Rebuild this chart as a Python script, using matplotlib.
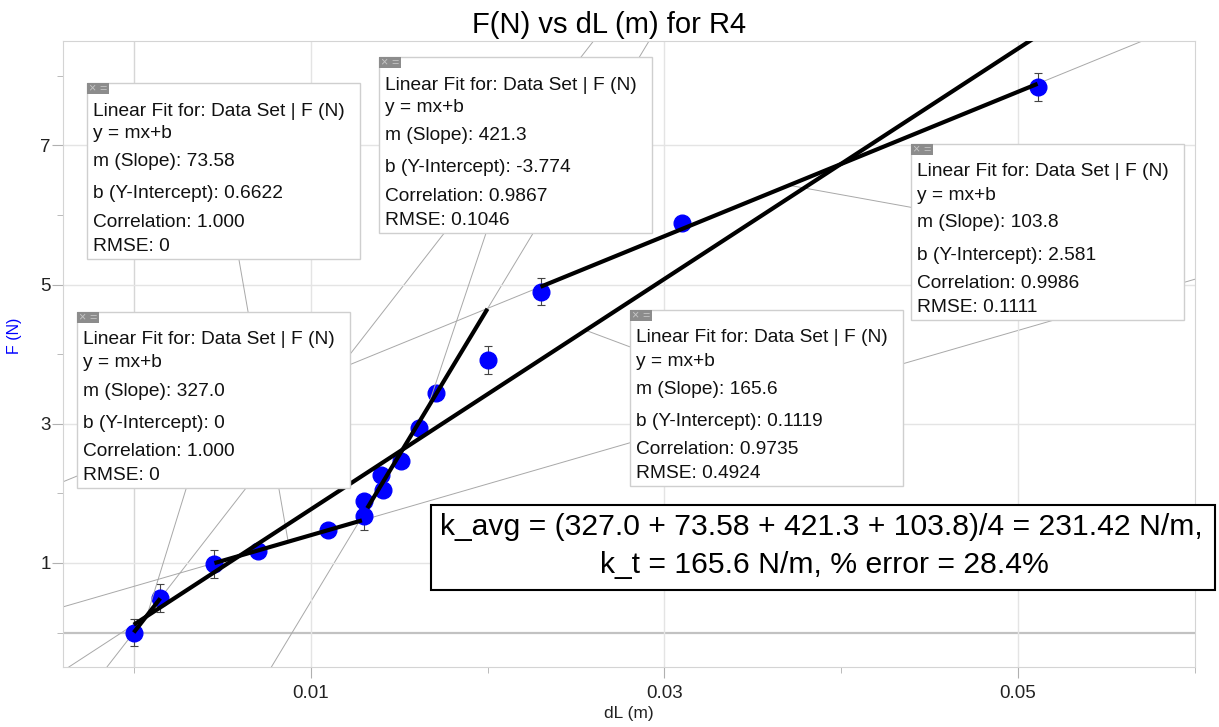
import numpy as np
import matplotlib.pyplot as plt
from matplotlib.patches import Rectangle

plt.rcParams['font.family'] = ['Liberation Sans', 'DejaVu Sans']

# data
dL = [0.0, 0.0015, 0.00456, 0.0070, 0.0110, 0.0130, 0.0130, 0.0140,
      0.0141, 0.0151, 0.0161, 0.0171, 0.0200, 0.0230, 0.0310, 0.0511]
F = [0.0, 0.49, 0.99, 1.165, 1.47, 1.885, 1.67, 2.27,
     2.05, 2.46, 2.94, 3.44, 3.92, 4.90, 5.89, 7.84]
F_err = [0.2, 0.2, 0.2, 0, 0, 0, 0.2, 0, 0, 0, 0, 0, 0.2, 0.2, 0, 0.2]

# linear fits: slope, intercept, fitted x range
fit_m = [327.0, 73.58, 421.3, 103.8, 165.6]
fit_b = [0.0, 0.6622, -3.774, 2.581, 0.1119]
fit_lo = [0.0, 0.00456, 0.0132, 0.0230, 0.0]
fit_hi = [0.0015, 0.0129, 0.0200, 0.0511, 0.0511]
fit_m_txt = ['327.0', '73.58', '421.3', '103.8', '165.6']
fit_b_txt = ['0', '0.6622', '-3.774', '2.581', '0.1119']
fit_corr = ['1.000', '1.000', '0.9867', '0.9986', '0.9735']
fit_rmse = ['0', '0', '0.1046', '0.1111', '0.4924']

# where each fit box sits (pixels, top-left)
box_pos = [(77, 312), (87, 83), (379, 57), (911, 144), (630, 310)]
box_w, box_h = 273, 176

summary = ("k_avg = (327.0 + 73.58 + 421.3 + 103.8)/4 = 231.42 N/m,\n"
           "k_t = 165.6 N/m, % error = 28.4%")

W, H = 1219, 727
fig = plt.figure(figsize=(W / 100, H / 100), dpi=100)
ax = fig.add_axes([63 / W, 1 - 667.3 / H, 1132 / W, 626.3 / H])
ax.set_xlim(-0.004, 0.06)
ax.set_ylim(-0.5, 8.5)

def fx(px):
    return px / W

def fy(py):
    return 1 - py / H

grey = '#a8a8a8'
xs = np.array(ax.get_xlim())

# fit lines extended over the whole graph (thin) and over the fit range (thick)
for m, b, lo, hi in zip(fit_m, fit_b, fit_lo, fit_hi):
    ax.plot(xs, m * xs + b, color=grey, lw=0.7, zorder=1.5)
    xr = np.array([lo, hi])
    ax.plot(xr, m * xr + b, color='black', lw=3, zorder=4, solid_capstyle='butt')

ax.errorbar(dL, F, yerr=F_err, fmt='none', ecolor='#444444', elinewidth=0.8,
            capsize=3, capthick=0.8, zorder=2)
ax.plot(dL, F, 'o', color='#0000ff', ms=12, mec='#0000ff', zorder=3)

ax.axhline(0, color='#c2c2c2', lw=1.6, zorder=1)
ax.axvline(0, color='#d6d6d6', lw=1, zorder=1)

ax.set_xticks([0.01, 0.03, 0.05])
ax.set_xticklabels(['0.01', '0.03', '0.05'])
ax.set_xticks([0, 0.02, 0.04, 0.06], minor=True)
ax.set_yticks([1, 3, 5, 7])
ax.set_yticks([0, 2, 4, 6, 8], minor=True)
ax.grid(True, which='major', color='#e4e4e4', lw=1, zorder=0)
ax.tick_params(which='major', length=8, color='#b0b0b0', labelsize=13.5,
               labelcolor='#222222')
ax.tick_params(which='minor', length=4, color='#b0b0b0')
ax.tick_params(axis='y', pad=1)
ax.tick_params(axis='x', pad=5)
for s in ax.spines.values():
    s.set_color('#d4d4d4')

ax.set_xlabel('dL (m)', fontsize=12.5, color='#222222')
ax.xaxis.set_label_coords(0.5, -0.062)
ax.set_ylabel('F (N)', fontsize=11.5, color='blue')
ax.yaxis.set_label_coords(-0.036, 0.529)

fig.text(0.5, fy(33), 'F(N) vs dL (m) for R4', ha='center', va='baseline',
         fontsize=21)

# fit info boxes with leader lines to the middle of each fit range
line_off = [32.5, 55.5, 83.5, 115.5, 143.7, 167.7]
for i, (l, t) in enumerate(box_pos):
    cx, cy = l + box_w / 2, t + box_h / 2
    xm = (fit_lo[i] + fit_hi[i]) / 2
    ym = fit_m[i] * xm + fit_b[i]
    ax.annotate('', xy=(xm, ym), xycoords='data',
                xytext=(fx(cx), fy(cy)), textcoords='figure fraction',
                arrowprops=dict(arrowstyle='-', color=grey, lw=0.7,
                                shrinkA=0, shrinkB=0))
    fig.add_artist(Rectangle((fx(l), fy(t + box_h)), box_w / W, box_h / H,
                             transform=fig.transFigure, fc='white',
                             ec='#cfcfcf', lw=1, zorder=5))
    for k, sym in enumerate(['×', '=']):
        fig.add_artist(Rectangle((fx(l + k * 11), fy(t + 11)), 10.5 / W, 11 / H,
                                 transform=fig.transFigure, fc='#8c8c8c',
                                 ec='none', zorder=6))
        fig.text(fx(l + k * 11 + 5.2), fy(t + 5.8), sym, ha='center', va='center',
                 fontsize=9, color='#c4c4c4', zorder=7)
    lines = ['Linear Fit for: Data Set | F (N)', 'y = mx+b',
             'm (Slope): ' + fit_m_txt[i], 'b (Y-Intercept): ' + fit_b_txt[i],
             'Correlation: ' + fit_corr[i], 'RMSE: ' + fit_rmse[i]]
    for txt, off in zip(lines, line_off):
        fig.text(fx(l + 6), fy(t + off), txt, ha='left', va='baseline',
                 fontsize=13.8, color='#111111', zorder=7)

# summary box
fig.add_artist(Rectangle((fx(431), fy(590)), (1215 - 431) / W, 85 / H,
                         transform=fig.transFigure, fc='white', ec='black',
                         lw=1.5, zorder=5))
sl = summary.split('\n')
fig.text(fx(821), fy(535), sl[0], ha='center', va='baseline', fontsize=21.7,
         zorder=7)
fig.text(fx(824), fy(573), sl[1], ha='center', va='baseline', fontsize=21.7,
         zorder=7)

fig.savefig('out.png', dpi=100)
